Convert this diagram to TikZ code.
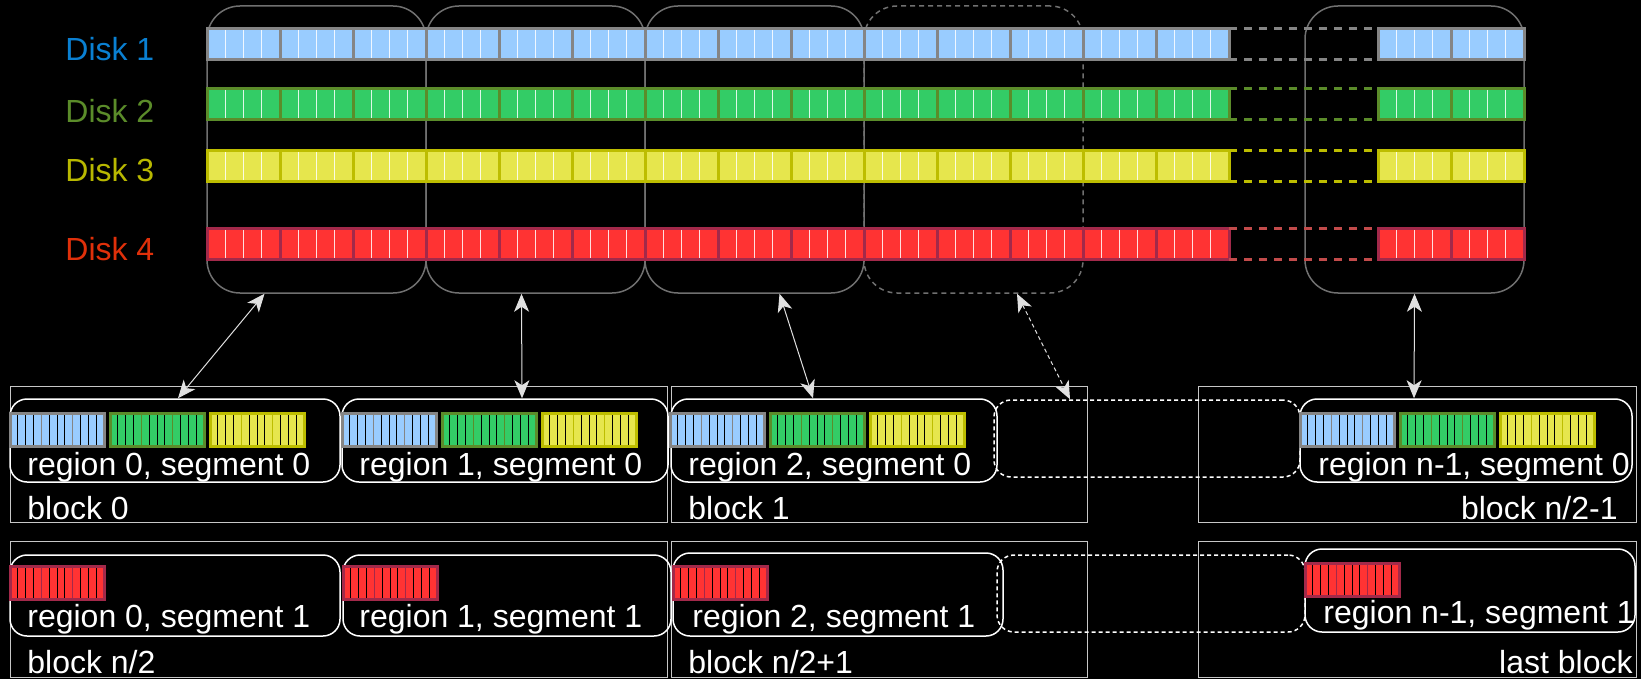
\documentclass[tikz,border=0pt]{standalone}
\usepackage{fontspec}
\setmainfont{Liberation Sans}
\usetikzlibrary{arrows.meta,calc}

\definecolor{fillA}{HTML}{99CCFF}
\definecolor{fillB}{HTML}{33CC66}
\definecolor{fillC}{HTML}{E6E64D}
\definecolor{fillD}{HTML}{FF3333}
\definecolor{edgeA}{HTML}{858585}
\definecolor{edgeB}{HTML}{5B8C2A}
\definecolor{edgeC}{HTML}{BDBD00}
\definecolor{edgeD}{HTML}{A3294A}
\definecolor{dashD}{HTML}{C24B4B}
\definecolor{textA}{HTML}{0A80D2}
\definecolor{textB}{HTML}{5B8C2A}
\definecolor{textC}{HTML}{B8B800}
\definecolor{textD}{HTML}{E0300A}
\definecolor{grpgray}{HTML}{707070}

% small disk strip inside a region box
\newcommand\minibar[4]{%
  \fill[#3] (#1,#2) rectangle ++(94,33);
  \foreach \k in {1,...,11} \draw[black,line width=0.4pt] ({#1+7.83*\k},#2) -- ++(0,33);
  \draw[#4,line width=0.75pt] ({#1+31.3},#2) -- ++(0,33) ({#1+62.7},#2) -- ++(0,33);
  \draw[#4,line width=1.5pt] (#1,#2) rectangle ++(94,33);
}

\tikzset{
  disklabel/.style={anchor=base west,inner sep=0pt},
  grp/.style={draw=grpgray,line width=0.75pt,rounded corners=16.5pt,inner sep=0pt,
    minimum width=109.5pt,minimum height=143.5pt},
  regbox/.style={draw=white,line width=0.75pt,rounded corners=8.5pt,inner sep=0pt},
  blockbox/.style={draw=white!78!black,line width=0.5pt,inner sep=0pt,minimum height=68pt},
  txt/.style={text=white,anchor=base west,inner sep=0pt},
  link/.style={<->,draw=white!88!black,line width=0.5pt},
}

\begin{document}
\begin{tikzpicture}[x=0.5pt,y=-0.5pt,>={Stealth[length=9pt,width=7.5pt,inset=2.5pt]},
  font=\fontsize{16}{19}\selectfont]
\fill[black] (0,0) rectangle (1641,679);
\useasboundingbox (0,0) rectangle (1641,679);

% disk names
\node[disklabel,text=textA] (lab1) at (65,61) {Disk 1};
\node[disklabel,text=textB] (lab2) at (65,123) {Disk 2};
\node[disklabel,text=textC] (lab3) at (65,182) {Disk 3};
\node[disklabel,text=textD] (lab4) at (65,260) {Disk 4};

% groups of segments over the disks
\node[grp] (g0) at (316.5,149.5) {};
\node[grp] (g1) at (535.5,149.5) {};
\node[grp] (g2) at (754.5,149.5) {};
\node[grp,dash pattern=on 2.5pt off 2pt] (g3) at (973.5,149.5) {};
\node[grp] (gn) at (1414.5,149.5) {};

% disk strips
\foreach \t/\f/\e/\d in {29/fillA/edgeA/edgeA,89/fillB/edgeB/edgeB,151/fillC/edgeC/edgeC,228/fillD/edgeD/dashD} {
  \foreach \x in {207,280,...,1156} {
    \fill[\f] (\x,\t) rectangle ++(73,31);
    \foreach \k in {1,2,3} \draw[white!85!\f,line width=0.5pt] ({\x+18.25*\k},\t) -- ++(0,31);
    \draw[\e,line width=1.5pt] (\x,\t) rectangle ++(73,31);
  }
  \foreach \x in {1378,1451} {
    \fill[\f] (\x,\t) rectangle ++(73,31);
    \foreach \k in {1,2,3} \draw[white!85!\f,line width=0.5pt] ({\x+18.25*\k},\t) -- ++(0,31);
    \draw[\e,line width=1.5pt] (\x,\t) rectangle ++(73,31);
  }
  \draw[\d,line width=1.5pt,dash pattern=on 4pt off 3.5pt] (1229,\t) -- (1378,\t) (1229,\t+31) -- (1378,\t+31);
}

% blocks
\node[blockbox,minimum width=328.5pt] (b0) at (338.5,454) {};
\node[blockbox,minimum width=208pt] (b1) at (879,454) {};
\node[blockbox,minimum width=219pt] (bh) at (1417,454) {};
\node[blockbox,minimum width=328.5pt] (bn2) at (338.5,609) {};
\node[blockbox,minimum width=208pt] (bn21) at (879,609) {};
\node[blockbox,minimum width=219pt] (blast) at (1417,609) {};

% regions
\node[regbox,dash pattern=on 2pt off 1.5pt,minimum width=153pt,minimum height=38.5pt] (rd0) at (1147,438.5) {};
\node[regbox,dash pattern=on 2pt off 1.5pt,minimum width=154pt,minimum height=38.5pt] (rd1) at (1151,593.5) {};
\node[regbox,minimum width=165pt,minimum height=41.5pt] (r00) at (175,440.5) {};
\node[regbox,minimum width=163pt,minimum height=41.5pt] (r10) at (505,440.5) {};
\node[regbox,minimum width=163pt,minimum height=41.5pt] (r20) at (834,440.5) {};
\node[regbox,minimum width=166pt,minimum height=41.5pt] (rn0) at (1466,440.5) {};
\node[regbox,minimum width=165pt,minimum height=40.5pt] (r01) at (175,595.5) {};
\node[regbox,minimum width=164pt,minimum height=40.5pt] (r11) at (507,595.5) {};
\node[regbox,minimum width=165pt,minimum height=41.5pt] (r21) at (838,594.5) {};
\node[regbox,minimum width=165pt,minimum height=41.5pt] (rn1) at (1470,590.5) {};

\foreach \x in {10,342,670,1300}
  \foreach \j/\f/\e in {0/fillA/edgeA,1/fillB/edgeB,2/fillC/edgeC} {\minibar{\x+100*\j}{413}{\f}{\e}}
\foreach \x/\y in {10/566,343/566,673/566,1305/563} {\minibar{\x}{\y}{fillD}{edgeD}}

\node[txt] (t00) at (27,475) {region 0, segment 0};
\node[txt] (t10) at (359,475) {region 1, segment 0};
\node[txt] (t20) at (688,475) {region 2, segment 0};
\node[txt] (tn0) at (1318,475) {region n-1, segment 0};
\node[txt] (t01) at (27,627) {region 0, segment 1};
\node[txt] (t11) at (359,627) {region 1, segment 1};
\node[txt] (t21) at (692,627) {region 2, segment 1};
\node[txt] (tn1) at (1323,623) {region n-1, segment 1};

\node[txt] (l0) at (27,519) {block 0};
\node[txt] (l1) at (688,519) {block 1};
\node[txt,anchor=base east] (lh) at (1618,519) {block n/2-1};
\node[txt] (ln2) at (27,673) {block n/2};
\node[txt] (ln21) at (688,673) {block n/2+1};
\node[txt,anchor=base east] (llast) at (1633,673) {last block};

% mapping
\draw[link] ($(g0.south)+(-52,0)$) -- ($(r00.north)+(3,0)$);
\draw[link] ($(g1.south)+(-14,0)$) -- ($(r10.north)+(17,0)$);
\draw[link] ($(g2.south)+(25,0)$) -- ($(r20.north)+(-21,0)$);
\draw[link,dash pattern=on 2pt off 1.5pt] ($(g3.south)+(43.5,0)$) -- ($(rd0.north)+(-77,0)$);
\draw[link] (gn.south) -- ($(rn0.north)+(-52,0)$);
\end{tikzpicture}
\end{document}
